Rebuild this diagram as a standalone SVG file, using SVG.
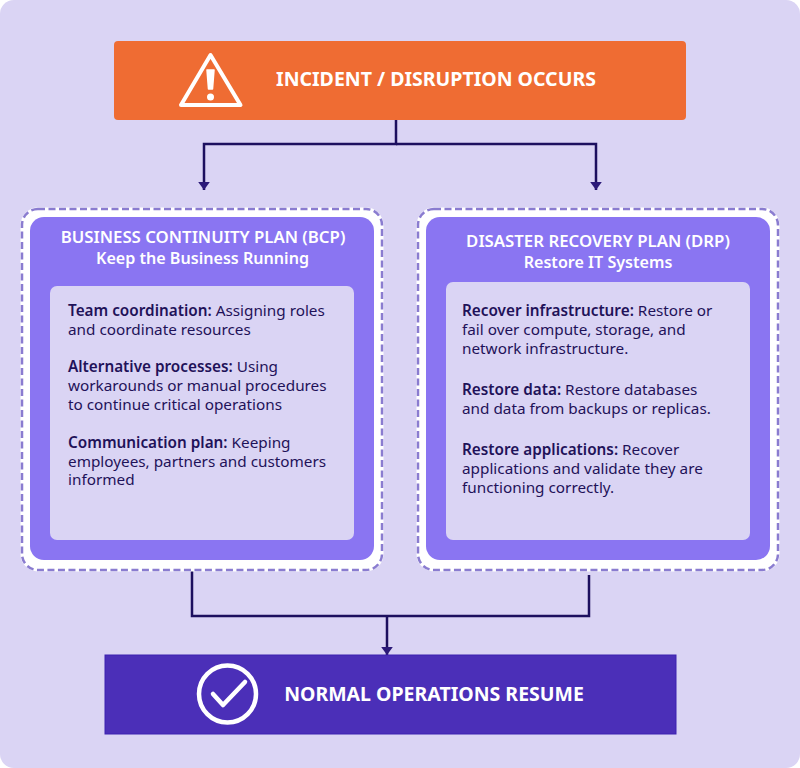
<svg xmlns="http://www.w3.org/2000/svg" width="800" height="768" viewBox="0 0 800 768">
<style>
text{font-family:"Noto Sans","Open Sans",sans-serif;fill:#1f1259;font-size:15.3px}
.b{font-weight:600}
.h{font-weight:600;fill:#fff;font-size:16.8px;text-anchor:middle}
.s{font-weight:600;fill:#fff;font-size:16.1px;text-anchor:middle}
.t{font-weight:700;fill:#fff;font-size:19.5px;text-anchor:middle}
.ring{fill:#fff;stroke:#fff;stroke-width:3}
.dash{fill:none;stroke:#8a7cd0;stroke-width:2.5;stroke-dasharray:7 3.5}
.panel{fill:#8a75f2}
.inner{fill:#dad4f4}
.c{fill:none;stroke:#1c0f5e;stroke-width:2.5}
.i{fill:none;stroke:#fff;stroke-width:4;stroke-linejoin:round;stroke-linecap:round}
</style>
<defs><marker id="a" markerUnits="userSpaceOnUse" markerWidth="9" markerHeight="12" refX="8" refY="6" orient="auto"><path d="M0 .2L8 6L0 11.800Z" fill="#2c1a78"/></marker></defs>
<rect id="background" width="800" height="768" rx="14" fill="#dad4f4"/>
<g id="connectors">
<path class="c" d="M396 120V144H204V190" marker-end="url(#a)"/>
<path class="c" d="M396 144H596V190" marker-end="url(#a)"/>
<path class="c" d="M192 570V616H589V575"/>
<path class="c" d="M387 616V655" marker-end="url(#a)"/>
</g>
<g id="incident">
<rect x="114" y="41" width="572" height="79" rx="4" fill="#ef6c33"/>
<path class="i" d="M210.500 55L240.500 105H181Z"/>
<path d="M207 70h7l-1.500 19h-4Z" fill="#fff" stroke="#fff" stroke-linejoin="round" stroke-width="1.500"/>
<circle cx="210.500" cy="97" r="3.500" fill="#fff"/>
<text class="t" x="436" y="86">INCIDENT / DISRUPTION OCCURS</text>
</g>
<g id="bcp">
<rect class="ring" x="22" y="209" width="360" height="361" rx="16"/>
<rect class="dash" x="22" y="209" width="360" height="361" rx="16"/>
<rect class="panel" x="30" y="217" width="344" height="343" rx="14"/>
<text class="h" x="203" y="243">BUSINESS CONTINUITY PLAN (BCP)</text>
<text class="s" x="202.500" y="264">Keep the Business Running</text>
<rect class="inner" x="50" y="286" width="304" height="254" rx="7"/>
<text x="68" y="316"><tspan class="b">Team coordination:</tspan> Assigning roles</text>
<text x="68" y="335">and coordinate resources</text>
<text x="68" y="372"><tspan class="b">Alternative processes:</tspan> Using</text>
<text x="68" y="391">workarounds or manual procedures</text>
<text x="68" y="410">to continue critical operations</text>
<text x="68" y="448"><tspan class="b">Communication plan:</tspan> Keeping</text>
<text x="68" y="467">employees, partners and customers</text>
<text x="68" y="485">informed</text>
</g>
<g id="drp">
<rect class="ring" x="418" y="209" width="360" height="361" rx="16"/>
<rect class="dash" x="418" y="209" width="360" height="361" rx="16"/>
<rect class="panel" x="426" y="217" width="344" height="343" rx="14"/>
<text class="h" x="598" y="247">DISASTER RECOVERY PLAN (DRP)</text>
<text class="s" x="598" y="268">Restore IT Systems</text>
<rect class="inner" x="446" y="282" width="304" height="258" rx="7"/>
<text x="462" y="316"><tspan class="b">Recover infrastructure:</tspan> Restore or</text>
<text x="462" y="335">fail over compute, storage, and</text>
<text x="462" y="354">network infrastructure.</text>
<text x="462" y="395"><tspan class="b">Restore data:</tspan> Restore databases</text>
<text x="462" y="414">and data from backups or replicas.</text>
<text x="462" y="455"><tspan class="b">Restore applications:</tspan> Recover</text>
<text x="462" y="474">applications and validate they are</text>
<text x="462" y="493">functioning correctly.</text>
</g>
<g id="normal">
<rect x="105" y="655" width="571" height="79" fill="#4b2fb8" stroke="#3d22b0"/>
<circle class="i" cx="227.500" cy="694" r="28.500" style="stroke-width:4.500"/>
<path class="i" d="M213 694L223 705L245 682" style="stroke-width:4.500"/>
<text class="t" x="434" y="701">NORMAL OPERATIONS RESUME</text>
</g>
</svg>
